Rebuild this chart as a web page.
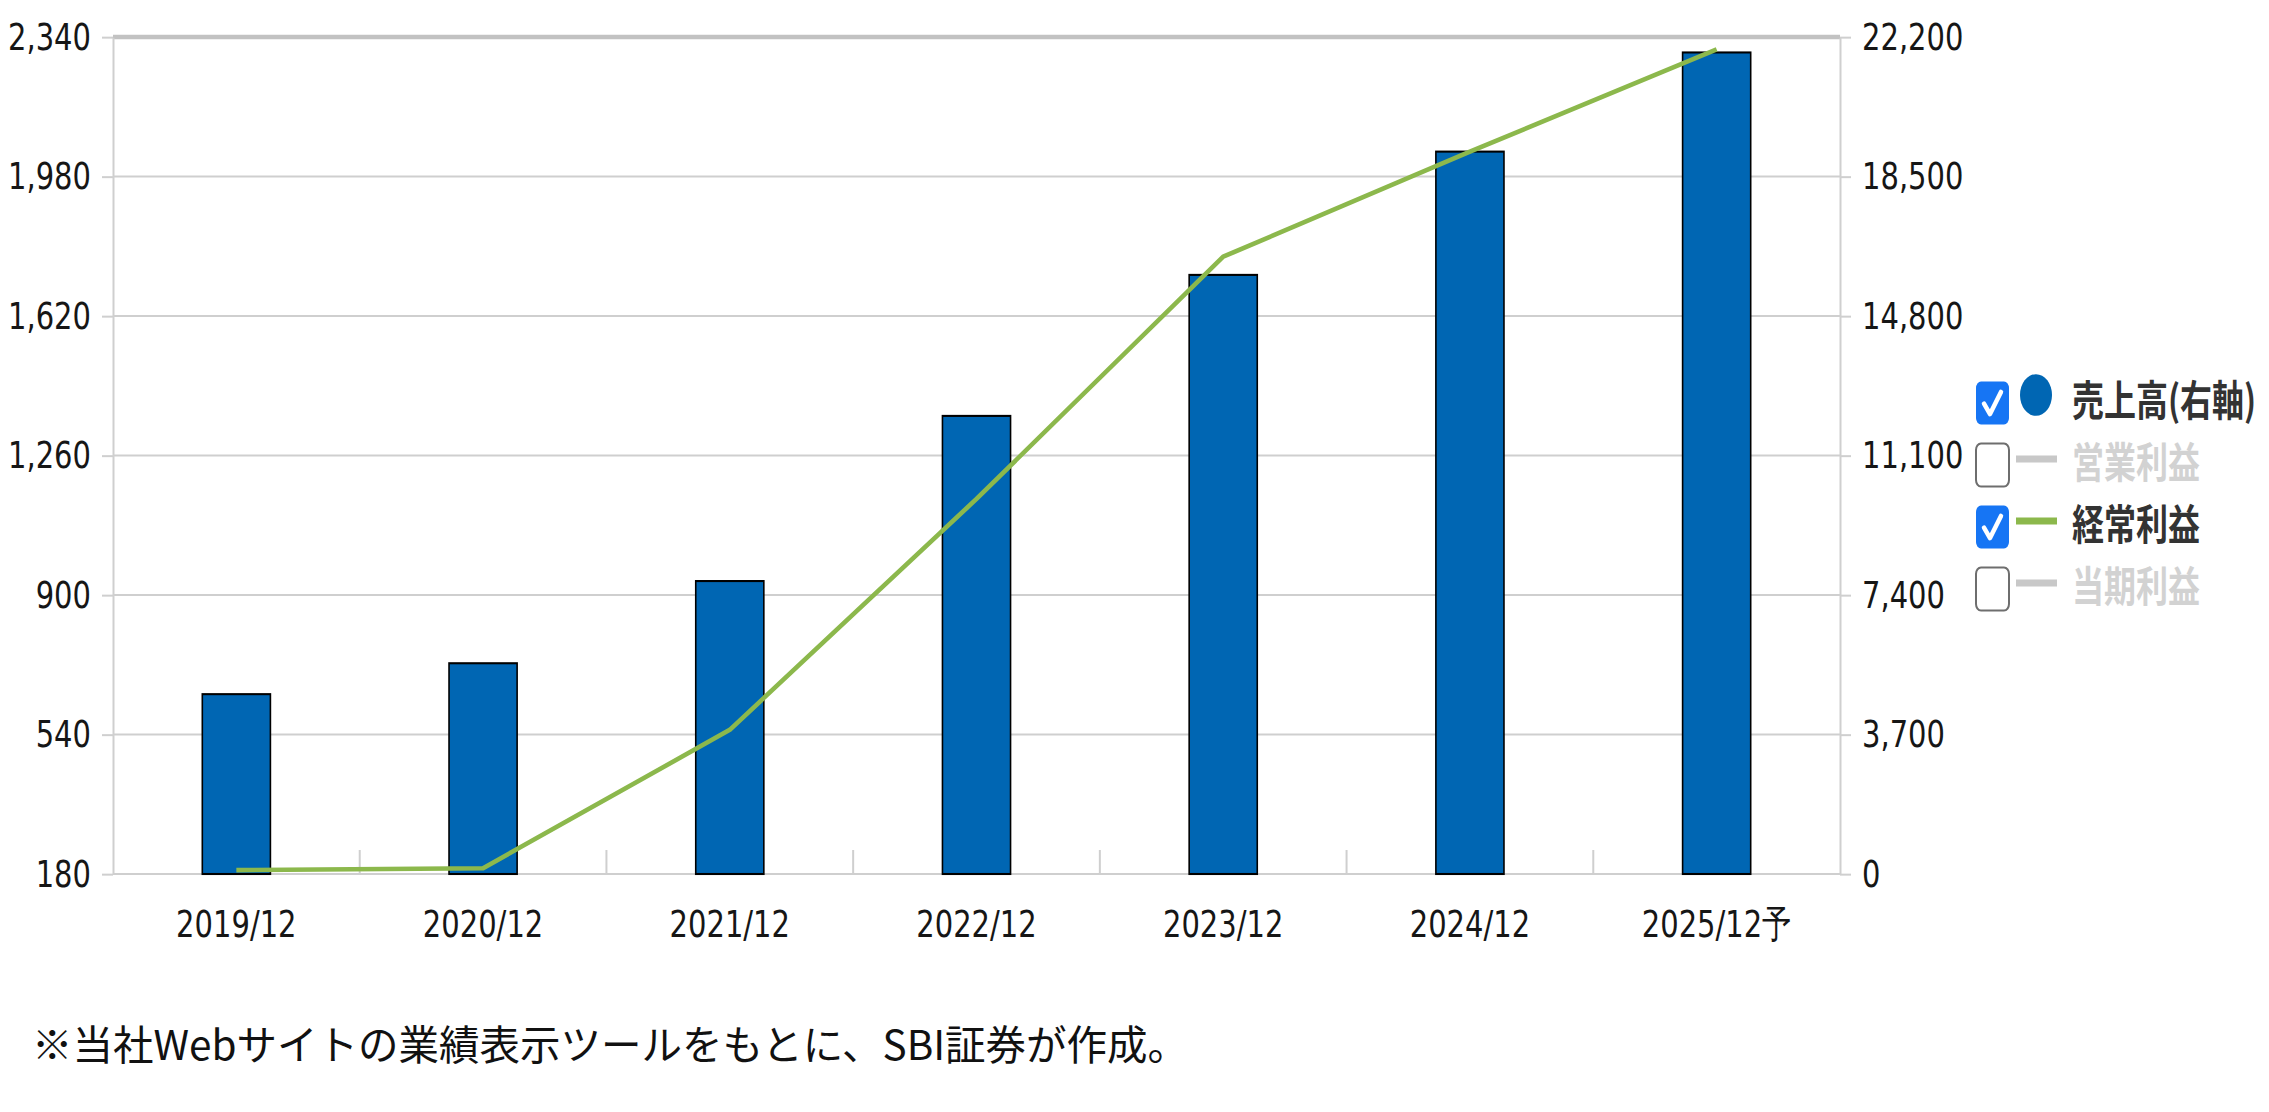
<!DOCTYPE html>
<html lang="ja">
<head>
<meta charset="utf-8">
<script src="https://cdn.jsdelivr.net/npm/d3@7"></script>
<style>
  html, body { margin: 0; padding: 0; background: #fff; }
  svg { display: block; }
</style>
</head>
<body>
<div id="wrapper"></div>
<script>
// Data
const categories = ['2019/12', '2020/12', '2021/12', '2022/12', '2023/12', '2024/12', '2025/12予'];
const salesValues = [4770, 5590, 7770, 12150, 15890, 19160, 21790]; // 売上高 (right axis, bars)
const ordinaryProfit = [190, 195, 552, 1148, 1773, 2044, 2308]; // 経常利益 (left axis, line)
const leftTicks = [180, 540, 900, 1260, 1620, 1980, 2340];
const rightTicks = [0, 3700, 7400, 11100, 14800, 18500, 22200];
const legendLabels = ['売上高(右軸)', '営業利益', '経常利益', '当期利益'];
const legendChecked = [true, false, true, false];
const footnote = '※当社Webサイトの業績表示ツールをもとに、SBI証券が作成。';

function drawChart() {
  // the source screenshot is stretched vertically, so the chart group is too
  const SY = 1.3;
  const dimensions = {
    width: 2269,
    height: 1112,
    left: 113,
    right: 1840,
    top: 37,
    bottom: 874,
  };

  const barColor = '#0066b3';
  const lineColor = '#8cb84c';
  const gridColor = '#cfcfcf';
  const labelFont = '"DejaVu Sans", Verdana, sans-serif';
  const cjkFont = '"Noto Sans CJK JP", "Noto Sans", sans-serif';

  // Scales
  const xScale = d3
    .scaleBand()
    .domain(categories)
    .range([dimensions.left, dimensions.right])
    .paddingInner(0.724)
    .paddingOuter(0.362);

  const yLeft = d3
    .scaleLinear()
    .domain([leftTicks[0], leftTicks[leftTicks.length - 1]])
    .range([dimensions.bottom / SY, dimensions.top / SY]);

  const yRight = d3
    .scaleLinear()
    .domain([rightTicks[0], rightTicks[rightTicks.length - 1]])
    .range([dimensions.bottom / SY, dimensions.top / SY]);

  const center = (c) => xScale(c) + xScale.bandwidth() / 2;

  // Canvas
  const svg = d3
    .select('#wrapper')
    .append('svg')
    .attr('width', dimensions.width)
    .attr('height', dimensions.height);

  const chart = svg.append('g').attr('transform', `scale(1, ${SY})`);

  // Gridlines
  chart
    .append('g')
    .selectAll('line')
    .data(leftTicks)
    .enter()
    .append('line')
    .attr('x1', dimensions.left)
    .attr('x2', dimensions.right)
    .attr('y1', (d) => yLeft(d))
    .attr('y2', (d) => yLeft(d))
    .attr('stroke', (d, i) => (i === leftTicks.length - 1 ? '#c2c2c2' : gridColor))
    .attr('stroke-width', (d, i) => (i === leftTicks.length - 1 ? 4.5 : 2))
    .attr('vector-effect', 'non-scaling-stroke');

  // Category separators on the x axis
  chart
    .append('g')
    .selectAll('line')
    .data(categories.slice(1))
    .enter()
    .append('line')
    .attr('x1', (d) => xScale(d) - (xScale.step() - xScale.bandwidth()) / 2)
    .attr('x2', (d) => xScale(d) - (xScale.step() - xScale.bandwidth()) / 2)
    .attr('y1', yLeft(leftTicks[0]))
    .attr('y2', yLeft(leftTicks[0]) - 24 / SY)
    .attr('stroke', gridColor)
    .attr('stroke-width', 2)
    .attr('vector-effect', 'non-scaling-stroke');

  // Bars
  chart
    .append('g')
    .selectAll('rect')
    .data(salesValues)
    .enter()
    .append('rect')
    .attr('x', (d, i) => xScale(categories[i]))
    .attr('y', (d) => yRight(d))
    .attr('width', xScale.bandwidth())
    .attr('height', (d) => yRight(0) - yRight(d))
    .attr('fill', barColor)
    .attr('stroke', '#000')
    .attr('stroke-width', 1.6);

  // Line
  const line = d3
    .line()
    .x((d, i) => center(categories[i]))
    .y((d) => yLeft(d));

  chart
    .append('path')
    .datum(ordinaryProfit)
    .attr('d', line)
    .attr('fill', 'none')
    .attr('stroke', lineColor)
    .attr('stroke-width', 4.6)
    .attr('stroke-linejoin', 'round')
    .attr('vector-effect', 'non-scaling-stroke');

  // Axes
  const styleAxis = (g) => {
    g.select('.domain')
      .attr('stroke', gridColor)
      .attr('stroke-width', 2)
      .attr('vector-effect', 'non-scaling-stroke');
    g.selectAll('.tick line')
      .attr('stroke', gridColor)
      .attr('stroke-width', 2)
      .attr('vector-effect', 'non-scaling-stroke');
    g.selectAll('.tick text')
      .attr('fill', '#161616')
      .style('font-family', labelFont)
      .style('font-size', '29px');
  };

  const yAxisLeft = d3
    .axisLeft(yLeft)
    .tickValues(leftTicks)
    .tickFormat(d3.format(','))
    .tickSizeInner(11)
    .tickSizeOuter(0)
    .tickPadding(11);

  chart
    .append('g')
    .attr('id', 'y-axis-left')
    .attr('transform', `translate(${dimensions.left}, 0)`)
    .call(yAxisLeft)
    .call(styleAxis);

  const yAxisRight = d3
    .axisRight(yRight)
    .tickValues(rightTicks)
    .tickFormat(d3.format(','))
    .tickSizeInner(11)
    .tickSizeOuter(0)
    .tickPadding(11);

  chart
    .append('g')
    .attr('id', 'y-axis-right')
    .attr('transform', `translate(${dimensions.right}, 0)`)
    .call(yAxisRight)
    .call(styleAxis);

  // x labels
  chart
    .append('g')
    .selectAll('text')
    .data(categories)
    .enter()
    .append('text')
    .attr('x', (d) => center(d))
    .attr('y', 937 / SY)
    .attr('text-anchor', 'middle')
    .attr('fill', '#161616')
    .style('font-family', labelFont)
    .style('font-size', '29px')
    .text((d) => d);

  // Legend
  const legend = chart.append('g').attr('id', 'legend');

  legendLabels.forEach((label, i) => {
    const rowY = 397 + 62 * i;
    const checked = legendChecked[i];
    const item = legend.append('g');

    const box = item
      .append('g')
      .attr('transform', `translate(1976, ${(rowY + 6) / SY - 16.5})`);

    box
      .append('rect')
      .attr('width', 33)
      .attr('height', 33)
      .attr('rx', 5)
      .attr('fill', checked ? '#1675f4' : '#fff')
      .attr('stroke', checked ? 'none' : '#6e6e6e')
      .attr('stroke-width', 2)
      .attr('vector-effect', 'non-scaling-stroke');

    if (checked) {
      box
        .append('path')
        .attr('d', 'M8,17 L14,25 L25,8')
        .attr('fill', 'none')
        .attr('stroke', '#fff')
        .attr('stroke-width', 4.5)
        .attr('stroke-linecap', 'round')
        .attr('stroke-linejoin', 'round')
        .attr('vector-effect', 'non-scaling-stroke');
    }

    if (i === 0) {
      item
        .append('circle')
        .attr('cx', 2036)
        .attr('cy', (rowY - 2) / SY)
        .attr('r', 16)
        .attr('fill', barColor);
    } else {
      item
        .append('line')
        .attr('x1', 2016)
        .attr('x2', 2057)
        .attr('y1', rowY / SY)
        .attr('y2', rowY / SY)
        .attr('stroke', checked ? lineColor : '#c8c8c8')
        .attr('stroke-width', 5.2);
    }

    item
      .append('text')
      .attr('x', 2072)
      .attr('y', (rowY + 1) / SY)
      .attr('dominant-baseline', 'central')
      .attr('fill', checked ? '#333' : '#d2d2d2')
      .style('font-family', cjkFont)
      .style('font-weight', 700)
      .style('font-size', '32px')
      .text(label);
  });

  // Footnote (not stretched)
  svg
    .append('text')
    .attr('x', 32)
    .attr('y', 1060)
    .attr('fill', '#111')
    .style('font-family', cjkFont)
    .style('font-size', '40.5px')
    .text(footnote);
}

drawChart();
</script>
</body>
</html>
